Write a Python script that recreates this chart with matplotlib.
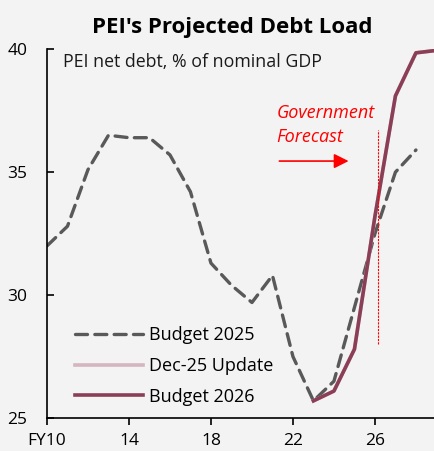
import matplotlib
matplotlib.use("Agg")
import matplotlib.pyplot as plt

plt.rcParams['font.family'] = ['Open Sans', 'DejaVu Sans']

# data
years_2025 = [10, 11, 12, 13, 14, 15, 16, 17, 18, 19, 20, 21, 22, 23, 24, 25, 26, 27, 28]
budget_2025 = [32.0, 32.8, 35.1, 36.5, 36.4, 36.4, 35.7, 34.2, 31.3, 30.4, 29.7, 30.8, 27.5,
               25.7, 26.5, 29.5, 32.5, 35.0, 35.9]
years_2026 = [23, 24, 25, 26, 27, 28, 29]
dec25_update = [25.7, 26.1, 27.8, 33.2, 38.1, 39.85, 39.95]
budget_2026 = [25.7, 26.1, 27.8, 33.2, 38.1, 39.85, 39.95]
xticks = [10, 14, 18, 22, 26]
xticklabels = ['FY10', '14', '18', '22', '26']
yticks = [25, 30, 35, 40]

bg = '#F2F3F2'
fig = plt.figure(figsize=(4.35, 4.51), dpi=100, facecolor=bg)
ax = fig.add_axes([0.108, 0.073, 0.892, 0.818], facecolor=bg)

ax.plot(years_2025, budget_2025, color='#595959', lw=2.4, ls=(0, (3.6, 2.2)),
        dash_capstyle='round', label='Budget 2025')
ax.plot(years_2026, dec25_update, color='#D5B5C0', lw=2.6, label='Dec-25 Update')
ax.plot(years_2026, budget_2026, color='#8B3F57', lw=2.6, label='Budget 2026')

# government forecast marker
ax.plot([26.15, 26.15], [28.0, 36.7], color='red', lw=0.8, ls=(0, (2, 1)))
ax.text(21.2, 36.92, 'Government\nForecast', color='red', style='italic', fontsize=13,
        ha='left', va='center', linespacing=1.42)
ax.annotate('', xy=(24.85, 35.45), xytext=(21.2, 35.45),
            arrowprops=dict(arrowstyle='-|>', color='red', lw=1.2, mutation_scale=22))

ax.set_xlim(10, 28.93)
ax.set_ylim(25, 40)
ax.set_xticks(xticks)
ax.set_xticklabels(xticklabels)
ax.set_yticks(yticks)
ax.tick_params(axis='y', direction='in', length=5, width=1.2, labelsize=12.5, pad=14)
ax.tick_params(axis='x', direction='out', length=5, width=1.2, labelsize=12.5, pad=6)
for s in ['top', 'right']:
    ax.spines[s].set_visible(False)
for s in ['left', 'bottom']:
    ax.spines[s].set_linewidth(1.2)

ax.text(0.04, 0.99, 'PEI net debt, % of nominal GDP', transform=ax.transAxes,
        fontsize=12.8, va='top', ha='left', color='#1a1a1a')

leg = ax.legend(loc='lower left', bbox_to_anchor=(0.03, -0.01), frameon=False, fontsize=13,
                handlelength=3.8, handletextpad=0.3, labelspacing=0.7)

fig.text(0.533, 0.94, "PEI's Projected Debt Load", fontsize=16, fontweight='bold',
         ha='center', va='center')

fig.savefig('out.png', dpi=100, facecolor=bg)
